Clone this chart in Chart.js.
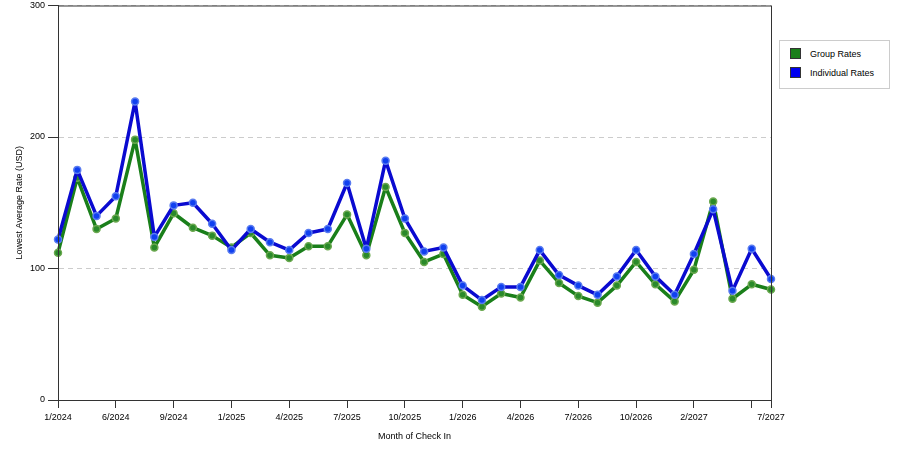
<!DOCTYPE html>
<html>
<head>
<meta charset="utf-8">
<script src="https://cdn.jsdelivr.net/npm/chart.js@4.4.1/dist/chart.umd.min.js"></script>
<style>
  html, body { margin: 0; padding: 0; background: #fff; }
  #wrap { position: relative; width: 900px; height: 450px; }
  #legend {
    position: absolute; left: 779px; top: 40px; width: 109px; height: 47px;
    border: 1px solid #ccc; background: #fff;
    font: 9px "Liberation Sans", Arial, sans-serif; color: #000;
  }
  #legend div { position: absolute; left: 10px; height: 12px; line-height: 12px; }
  #legend span.sw { display: inline-block; width: 11px; height: 11px; border: 1px solid #333; vertical-align: top; margin-right: 9px; box-sizing: border-box; }
</style>
</head>
<body>
<div id="wrap">
  <canvas id="lineChart" width="900" height="450"></canvas>
  <div id="legend">
    <div style="top:7px"><span class="sw" style="background:#1a7f1a"></span>Group Rates</div>
    <div style="top:26px"><span class="sw" style="background:#0000ee"></span>Individual Rates</div>
  </div>
</div>
<script>
// categories (check-in months)
var months = ["1/2024", "3/2024", "4/2024", "6/2024", "7/2024", "8/2024", "9/2024", "10/2024",
  "11/2024", "1/2025", "2/2025", "3/2025", "4/2025", "5/2025", "6/2025", "7/2025", "8/2025",
  "9/2025", "10/2025", "11/2025", "12/2025", "1/2026", "2/2026", "3/2026", "4/2026", "5/2026",
  "6/2026", "7/2026", "8/2026", "9/2026", "10/2026", "11/2026", "12/2026", "2/2027", "3/2027",
  "5/2027", "6/2027", "7/2027"];

var groupRates = [112, 169, 130, 138, 198, 116, 142, 131, 125, 116, 127, 110, 108, 117, 117,
  141, 110, 162, 127, 105, 111, 80, 71, 81, 78, 106, 89, 79, 74, 87, 105, 88, 75, 99, 151,
  77, 88, 84];

var individualRates = [122, 175, 140, 155, 227, 124, 148, 150, 134, 114, 130, 120, 114, 127,
  130, 165, 115, 182, 138, 113, 116, 87, 76, 86, 86, 114, 95, 87, 80, 94, 114, 94, 80, 111,
  145, 83, 115, 92];

// months that get a label on the x axis, plus ones with only a tick mark
var labeledMonths = ["1/2024", "6/2024", "9/2024", "1/2025", "4/2025", "7/2025", "10/2025",
  "1/2026", "4/2026", "7/2026", "10/2026", "2/2027", "7/2027"];
var tickOnlyMonths = ["6/2027"];

var yTicks = [0, 100, 200, 300];

var font = { family: '"Liberation Sans", Arial, sans-serif', size: 9 };

var framePlugin = {
  id: 'frame',
  afterDraw: function(chart) {
    var a = chart.chartArea, ctx = chart.ctx;
    ctx.save();
    ctx.strokeStyle = '#333';
    ctx.lineWidth = 1;
    ctx.strokeRect(a.left + 0.5, a.top + 0.5, a.right - a.left, a.bottom - a.top);
    ctx.restore();
  }
};

var ctxL = document.getElementById("lineChart").getContext('2d');
var myLineChart = new Chart(ctxL, {
  type: 'line',
  data: {
    labels: months,
    datasets: [{
      label: "Group Rates",
      data: groupRates,
      borderColor: "#1a7f1a",
      backgroundColor: "#2a8a2a",
      pointBackgroundColor: "#2a8a2a",
      pointBorderColor: "#6aa84f",
      pointBorderWidth: 1.5,
      pointRadius: 3.5,
      borderWidth: 3.5,
      borderJoinStyle: 'round',
      tension: 0,
      order: 2
    }, {
      label: "Individual Rates",
      data: individualRates,
      borderColor: "#0a0ad0",
      backgroundColor: "#1040f0",
      pointBackgroundColor: "#1040f0",
      pointBorderColor: "#5a7cf0",
      pointBorderWidth: 1.5,
      pointRadius: 3.5,
      borderWidth: 3.5,
      borderJoinStyle: 'round',
      tension: 0,
      order: 1
    }]
  },
  options: {
    responsive: false,
    animation: false,
    layout: { padding: { top: 4, right: 129, bottom: 0, left: 0 } },
    plugins: {
      legend: { display: false },
      tooltip: { enabled: false }
    },
    scales: {
      x: {
        offset: false,
        afterFit: function(s) { s.height = 50; },
        ticks: {
          autoSkip: false,
          maxRotation: 0,
          padding: 4,
          color: '#000',
          font: font,
          callback: function(v, i) {
            var m = months[i];
            return labeledMonths.indexOf(m) >= 0 ? m : '';
          }
        },
        grid: {
          drawOnChartArea: false,
          drawTicks: true,
          tickLength: 8,
          color: function(c) {
            var m = months[c.index];
            return (labeledMonths.indexOf(m) >= 0 || tickOnlyMonths.indexOf(m) >= 0) ? '#333' : 'rgba(0,0,0,0)';
          }
        },
        border: { display: true, color: '#333' },
        title: {
          display: true,
          text: 'Month of Check In',
          color: '#000',
          font: font,
          padding: { top: 0, bottom: 8 }
        }
      },
      y: {
        min: 0,
        max: 300,
        afterFit: function(s) { s.width = 58; s.paddingTop = 0; s.paddingBottom = 0; },
        afterBuildTicks: function(s) {
          s.ticks = yTicks.map(function(v) { return { value: v }; });
        },
        ticks: {
          padding: 3,
          color: '#000',
          font: font
        },
        grid: {
          color: '#cccccc',
          tickColor: '#333',
          tickLength: 10,
          tickBorderDash: [],
          lineWidth: 1
        },
        border: { display: true, color: '#333', dash: [5, 4] },
        title: {
          display: true,
          text: 'Lowest Average Rate (USD)',
          color: '#000',
          font: font,
          padding: { top: 14, bottom: 0 }
        }
      }
    }
  },
  plugins: [framePlugin]
});
</script>
</body>
</html>
